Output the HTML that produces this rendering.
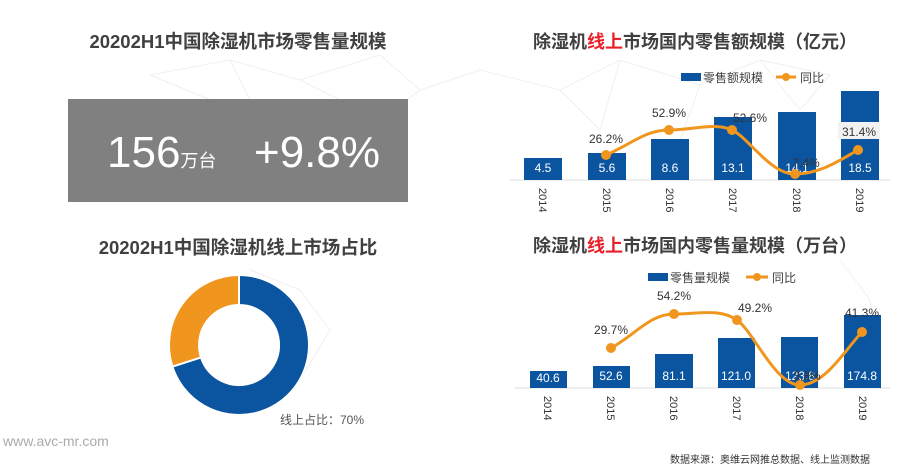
<!DOCTYPE html>
<html><head><meta charset="utf-8"><style>
body{margin:0;width:900px;height:470px;background:#fff;overflow:hidden;font-family:"Liberation Sans","Noto Sans CJK SC",sans-serif}
</style></head><body>
<svg width="900" height="470" xmlns="http://www.w3.org/2000/svg" font-family="Liberation Sans, Noto Sans CJK SC, sans-serif">
<g stroke="#f0f0f0" stroke-width="1" fill="none">
<path d="M150 75 L230 60 L300 80 L380 55 L420 90 L380 120 L300 80 M230 60 L260 120 L150 75 M420 90 L480 70 L560 90 L620 60 L700 85 L760 60 L830 75 M560 90 L600 130 L620 60 M700 85 L680 140 M760 60 L800 110 L830 75 M840 260 L870 300 L880 350 M250 270 L300 290 L330 330 L300 380 L260 400"/>
</g>
<!-- left -->
<text x="238" y="48" text-anchor="middle" font-size="18.5" font-weight="bold" fill="#404040">20202H1中国除湿机市场零售量规模</text>
<rect x="68" y="99" width="340" height="103" fill="#808080"/>
<text x="107" y="167" font-size="44" fill="#fff">156<tspan font-size="18">万台</tspan></text>
<text x="254" y="167" font-size="44" fill="#fff">+9.8%</text>
<text x="238" y="254" text-anchor="middle" font-size="18.5" font-weight="bold" fill="#404040">20202H1中国除湿机线上市场占比</text>
<g transform="translate(239,345)">
<path d="M0 -70 A70 70 0 1 1 -66.6 21.6 L-38 12.4 A40 40 0 1 0 0 -40 Z" fill="#0a54a0" stroke="#fff" stroke-width="2"/>
<path d="M-66.6 21.6 A70 70 0 0 1 0 -70 L0 -40 A40 40 0 0 0 -38 12.4 Z" fill="#f0961e" stroke="#fff" stroke-width="2"/>
</g>
<text x="280" y="424" font-size="12" fill="#555">线上占比：70%</text>
<text x="3" y="446" font-size="14" fill="#aaa">www.avc-mr.com</text>
<!-- top right -->
<text x="533" y="48" font-size="18" font-weight="bold" fill="#404040">除湿机<tspan fill="#e8202a">线上</tspan>市场国内零售额规模（亿元）</text>
<rect x="681" y="73" width="20" height="8" fill="#0a54a0"/>
<text x="703" y="82" font-size="12" fill="#404040">零售额规模</text>
<line x1="776" y1="77" x2="796" y2="77" stroke="#f0961e" stroke-width="3"/><circle cx="786" cy="77" r="4" fill="#f0961e"/>
<text x="800" y="82" font-size="12" fill="#404040">同比</text>
<line x1="510" y1="180" x2="890" y2="180" stroke="#ddd"/>
<g fill="#0a54a0">
<rect x="524" y="158" width="38" height="22"/><rect x="588" y="153" width="38" height="27"/><rect x="651" y="139" width="38" height="41"/><rect x="714" y="117" width="38" height="63"/><rect x="778" y="112" width="38" height="68"/><rect x="841" y="91" width="38" height="89"/>
</g>
<g font-size="12" fill="#fff" text-anchor="middle">
<text x="543" y="172">4.5</text><text x="607" y="172">5.6</text><text x="670" y="172">8.6</text><text x="733" y="172">13.1</text><text x="797" y="172">14.1</text><text x="860" y="172">18.5</text>
</g>
<path d="M606 155 C630 145,645 130,669 130 S715 122,732 130 S770 174,795 174 S840 160,858 150" stroke="#f0961e" stroke-width="3" fill="none"/>
<g fill="#f0961e"><circle cx="606" cy="155" r="5"/><circle cx="669" cy="130" r="5"/><circle cx="732" cy="130" r="5"/><circle cx="795" cy="174" r="5"/><circle cx="858" cy="150" r="5"/></g>
<rect x="838" y="122" width="42" height="17" fill="#f2f2f2"/>
<g font-size="12" fill="#333" text-anchor="middle">
<text x="606" y="143">26.2%</text><text x="669" y="117">52.9%</text><text x="750" y="122">52.6%</text><text x="806" y="167">7.4%</text><text x="859" y="136">31.4%</text>
</g>
<g font-size="11" fill="#333">
<text transform="translate(539,188) rotate(90)">2014</text><text transform="translate(603,188) rotate(90)">2015</text><text transform="translate(666,188) rotate(90)">2016</text><text transform="translate(729,188) rotate(90)">2017</text><text transform="translate(793,188) rotate(90)">2018</text><text transform="translate(856,188) rotate(90)">2019</text>
</g>
<!-- bottom right -->
<text x="533" y="252" font-size="18" font-weight="bold" fill="#404040">除湿机<tspan fill="#e8202a">线上</tspan>市场国内零售量规模（万台）</text>
<rect x="648" y="273" width="20" height="8" fill="#0a54a0"/>
<text x="670" y="282" font-size="12" fill="#404040">零售量规模</text>
<line x1="746" y1="277" x2="768" y2="277" stroke="#f0961e" stroke-width="3"/><circle cx="757" cy="277" r="4" fill="#f0961e"/>
<text x="772" y="282" font-size="12" fill="#404040">同比</text>
<line x1="515" y1="388" x2="890" y2="388" stroke="#ddd"/>
<g fill="#0a54a0">
<rect x="530" y="371" width="37" height="17"/><rect x="593" y="366" width="37" height="22"/><rect x="655" y="354" width="38" height="34"/><rect x="718" y="338" width="37" height="50"/><rect x="781" y="337" width="37" height="51"/><rect x="844" y="315" width="37" height="73"/>
</g>
<g font-size="12" fill="#fff" text-anchor="middle">
<text x="548" y="382">40.6</text><text x="611" y="380">52.6</text><text x="674" y="380">81.1</text><text x="736" y="380">121.0</text><text x="800" y="380">123.8</text><text x="862" y="380">174.8</text>
</g>
<path d="M611 348 C635 335,650 314,674 314 S720 308,737 320 S775 385,800 385 S845 350,862 332" stroke="#f0961e" stroke-width="3" fill="none"/>
<g fill="#f0961e"><circle cx="611" cy="348" r="5"/><circle cx="674" cy="314" r="5"/><circle cx="737" cy="320" r="5"/><circle cx="800" cy="385" r="5"/><circle cx="862" cy="332" r="5"/></g>
<g font-size="12" fill="#333" text-anchor="middle">
<text x="611" y="334">29.7%</text><text x="674" y="300">54.2%</text><text x="755" y="312">49.2%</text><text x="807" y="380">3.8%</text><text x="862" y="317">41.3%</text>
</g>
<g font-size="11" fill="#333">
<text transform="translate(544,396) rotate(90)">2014</text><text transform="translate(607,396) rotate(90)">2015</text><text transform="translate(670,396) rotate(90)">2016</text><text transform="translate(733,396) rotate(90)">2017</text><text transform="translate(796,396) rotate(90)">2018</text><text transform="translate(859,396) rotate(90)">2019</text>
</g>
<text x="670" y="463" font-size="10" fill="#333">数据来源：奥维云网推总数据、线上监测数据</text>
</svg>
</body></html>
